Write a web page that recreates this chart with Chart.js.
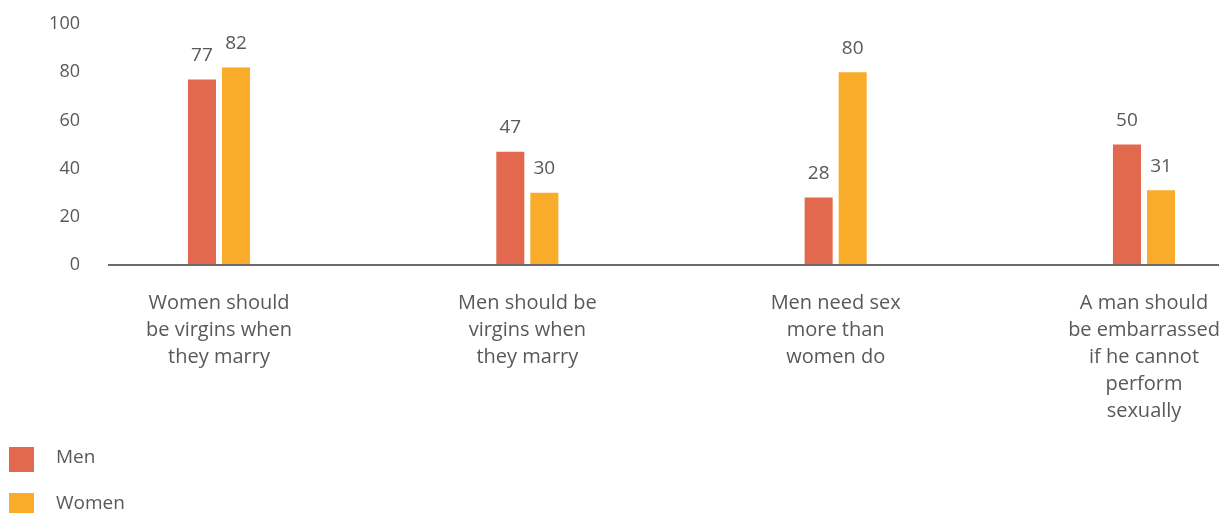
<!DOCTYPE html>
<html>
<head>
<meta charset="utf-8">
<script src="https://cdn.jsdelivr.net/npm/chart.js@4/dist/chart.umd.min.js"></script>
<style>
    html, body { margin: 0; padding: 0; background: #fff; overflow: hidden; }
    #wrap { position: relative; width: 1219px; height: 513px; }
    #legend { position: absolute; left: 9px; top: 447px; font-family: "Open Sans", sans-serif; font-size: 19px; color: #595959; }
    .item { display: flex; align-items: center; height: 25px; line-height: 25px; margin-bottom: 21px; }
    .item span.txt { position: relative; top: -3px; }
    .swatch { width: 25px; height: 25px; margin-right: 22px; }
</style>
</head>
<body>
<div id="wrap">
    <canvas id="chart" width="1219" height="513"></canvas>
    <div id="legend"></div>
</div>
<script>
    var CATEGORIES = [
        ['Women should', 'be virgins when', 'they marry'],
        ['Men should be', 'virgins when', 'they marry'],
        ['Men need sex', 'more than', 'women do'],
        ['A man should', 'be embarrassed', 'if he cannot', 'perform', 'sexually']
    ];
    var MEN = [77, 47, 28, 50];
    var WOMEN = [82, 30, 80, 31];
    var Y_TICKS = [0, 20, 40, 60, 80, 100];

    var COLORS = {
        men:   '#E2694E',
        women: '#F9AC29',
        text:  '#595959',
        axis:  '#6b6b6b'
    };
    var FONT = '"Open Sans", sans-serif';

    // value labels above bars + x axis line reaching beyond the plot area
    var extras = {
        id: 'extras',
        afterDatasetsDraw: function (chart) {
            var ctx = chart.ctx;
            var zeroY = chart.scales.y.getPixelForValue(0);
            ctx.save();
            ctx.strokeStyle = COLORS.axis;
            ctx.lineWidth = 2;
            ctx.beginPath();
            ctx.moveTo(108, zeroY);
            ctx.lineTo(chart.width, zeroY);
            ctx.stroke();

            ctx.fillStyle = COLORS.text;
            ctx.font = '19px ' + FONT;
            ctx.textAlign = 'center';
            ctx.textBaseline = 'middle';
            chart.data.datasets.forEach(function (ds, i) {
                chart.getDatasetMeta(i).data.forEach(function (bar, j) {
                    ctx.fillText(ds.data[j], bar.x, bar.y - 24);
                });
            });
            ctx.restore();
        }
    };

    var chart = new Chart(document.getElementById('chart'), {
        type: 'bar',
        data: {
            labels: CATEGORIES,
            datasets: [
                { label: 'Men', data: MEN, backgroundColor: COLORS.men, clip: false },
                { label: 'Women', data: WOMEN, backgroundColor: COLORS.women, clip: false }
            ]
        },
        options: {
            responsive: false,
            animation: false,
            categoryPercentage: 0.2208,
            barPercentage: 0.8235,
            layout: { padding: { left: 0, right: 75, top: 24, bottom: 63 } },
            plugins: {
                legend: { display: false },
                tooltip: { enabled: false }
            },
            scales: {
                x: {
                    offset: false,
                    border: { display: false },
                    grid: { display: false, drawTicks: false },
                    ticks: {
                        color: COLORS.text,
                        font: { family: FONT, size: 20, lineHeight: '27px' },
                        padding: 25,
                        autoSkip: false,
                        maxRotation: 0
                    },
                    afterFit: function (axis) {
                        axis.paddingLeft = 0;
                        axis.paddingRight = 0;
                    }
                },
                y: {
                    min: 0,
                    max: 100,
                    afterBuildTicks: function (axis) {
                        axis.ticks = Y_TICKS.map(function (v) { return { value: v }; });
                    },
                    border: { display: false },
                    grid: { display: false, drawTicks: false },
                    ticks: {
                        color: COLORS.text,
                        font: { family: FONT, size: 18 },
                        padding: 139,
                        autoSkip: false
                    },
                    afterFit: function (axis) {
                        axis.width = 219;
                        axis.paddingTop = 0;
                        axis.paddingBottom = 0;
                    }
                }
            }
        },
        plugins: [extras]
    });

    var legend = document.getElementById('legend');
    chart.data.datasets.forEach(function (ds) {
        var item = document.createElement('div');
        item.className = 'item';
        item.innerHTML = '<span class="swatch" style="background:' + ds.backgroundColor + '"></span><span class="txt">' + ds.label + '</span>';
        legend.appendChild(item);
    });
</script>
</body>
</html>
